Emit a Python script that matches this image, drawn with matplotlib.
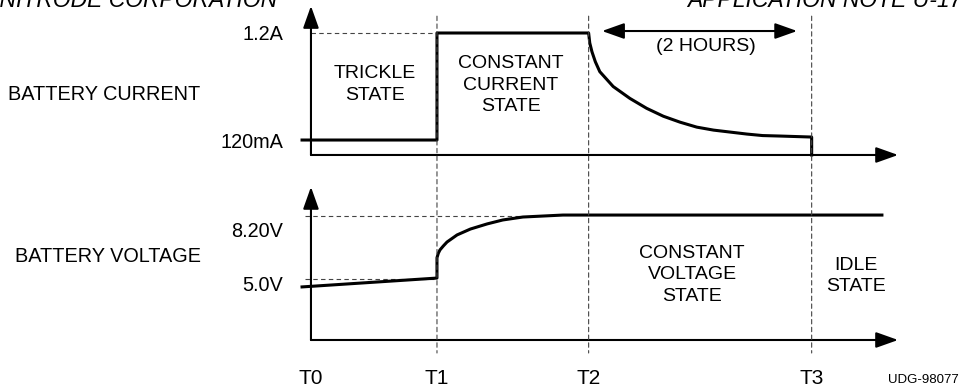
import matplotlib.pyplot as plt
from matplotlib.patches import ConnectionPatch

plt.rcParams['font.family'] = ['Liberation Sans', 'DejaVu Sans']

# time in hours, T markers
t_marks = [0.0, 1.13, 2.49, 4.49]
t_labels = ['T0', 'T1', 'T2', 'T3']

# battery current (A)
t_cur = [-0.08, 1.13, 1.13, 2.49, 2.50, 2.52, 2.55, 2.59, 2.71, 2.86, 3.01, 3.16,
         3.31, 3.46, 3.61, 3.76, 3.91, 4.05, 4.21, 4.35, 4.49, 4.49]
i_cur = [0.12, 0.12, 1.20, 1.20, 1.10, 1.01, 0.91, 0.81, 0.66, 0.54, 0.44, 0.36,
         0.30, 0.25, 0.22, 0.20, 0.18, 0.165, 0.16, 0.155, 0.15, -0.031]

# battery voltage (V)
t_volt = [-0.08, 1.13, 1.13, 1.142, 1.157, 1.187, 1.22, 1.31, 1.43, 1.58, 1.72,
          1.90, 2.08, 2.26, 2.50, 5.12]
v_volt = [4.62, 5.07, 6.10, 6.33, 6.50, 6.70, 6.90, 7.26, 7.56, 7.82, 8.02,
          8.17, 8.22, 8.27, 8.27, 8.27]

i_ticks = [0.12, 1.2]
i_ticklabels = ['120mA', '1.2A']
v_levels = [5.0, 8.2]
v_labels = ['5.0V', '8.20V']

I_BASE = -0.031
V_BASE = 1.925
T_END = 5.265

fig = plt.figure(figsize=(9.59, 3.9), dpi=100)
ax_i = fig.add_axes([290 / 959, 1 - 175 / 390, 615 / 959, 175 / 390])
ax_v = fig.add_axes([290 / 959, 1 - 360 / 390, 615 / 959, 180 / 390])

ax_i.set_xlim(-0.188, 5.327)
ax_v.set_xlim(-0.188, 5.327)
ax_i.set_ylim(-0.233, 1.533)
ax_v.set_ylim(0.909, 10.05)

for ax in (ax_i, ax_v):
    for s in ax.spines.values():
        s.set_visible(False)
    ax.patch.set_alpha(0)

arrow_style = dict(arrowstyle='-|>,head_length=0.9,head_width=0.32', color='black',
                   lw=1.5, mutation_scale=15, shrinkA=0, shrinkB=0)


def axis_arrows(ax, base, top):
    ax.annotate('', xy=(0, top), xytext=(0, base), arrowprops=arrow_style,
                annotation_clip=False)
    ax.annotate('', xy=(T_END, base), xytext=(0, base), arrowprops=arrow_style,
                annotation_clip=False)


axis_arrows(ax_i, I_BASE, 1.473)
axis_arrows(ax_v, V_BASE, 9.70)

dash = (0, (4, 3))
# reference levels
ax_i.plot([0, t_marks[1]], [1.2, 1.2], color='#444444', lw=0.8, ls=dash)
ax_v.plot([-0.05, 1.9], [v_levels[1], v_levels[1]], color='#444444', lw=0.8, ls=dash)
ax_v.plot([-0.05, t_marks[1]], [v_levels[0], v_levels[0]], color='#444444', lw=0.8, ls=dash)

for t in t_marks[1:]:
    con = ConnectionPatch(xyA=(t, 1.37), coordsA=ax_i.transData,
                          xyB=(t, 1.265), coordsB=ax_v.transData,
                          color='#444444', lw=0.8, ls=dash)
    fig.add_artist(con)

ax_i.plot(t_cur, i_cur, color='black', lw=2.2, solid_joinstyle='round', zorder=3)
ax_v.plot(t_volt, v_volt, color='black', lw=2.2, solid_joinstyle='round', zorder=3)

# tick labels
ax_i.set_xticks([])
ax_i.set_yticks(i_ticks)
ax_i.set_yticklabels(i_ticklabels)
ax_i.tick_params(axis='y', length=0, pad=5, labelsize=14.3)

ax_v.set_yticks([])
ax_v.set_xticks(t_marks)
ax_v.set_xticklabels(t_labels)
ax_v.tick_params(axis='x', length=0, pad=6.5, labelsize=15)

ax_v.text(-0.25, 7.41, v_labels[1], ha='right', va='center', fontsize=14.3)
ax_v.text(-0.25, 4.67, v_labels[0], ha='right', va='center', fontsize=14.3)

# state annotations
ax_i.text(0.574, 0.685, 'TRICKLE\nSTATE', ha='center', va='center', fontsize=14,
          linespacing=1.38)
ax_i.text(1.794, 0.675, 'CONSTANT\nCURRENT\nSTATE', ha='center', va='center',
          fontsize=14, linespacing=1.33)
ax_i.annotate('', xy=(4.36, 1.22), xytext=(2.61, 1.22),
              arrowprops=dict(arrowstyle='<|-|>,head_length=0.9,head_width=0.32',
                              color='black', lw=1.5, mutation_scale=15,
                              shrinkA=0, shrinkB=0))
ax_i.text(3.54, 1.059, '(2 HOURS)', ha='center', va='center', fontsize=14)
ax_v.text(3.417, 5.226, 'CONSTANT\nVOLTAGE\nSTATE', ha='center', va='center',
          fontsize=14, linespacing=1.33)
ax_v.text(4.888, 5.175, 'IDLE\nSTATE', ha='center', va='center', fontsize=14,
          linespacing=1.33)

fig.text(8 / 959, 1 - 94 / 390, 'BATTERY CURRENT', ha='left', va='center', fontsize=14.3)
fig.text(15 / 959, 1 - 257 / 390, 'BATTERY VOLTAGE', ha='left', va='center', fontsize=14.3)
fig.text(1.0, 1 - 380 / 390, 'UDG-98077', ha='right', va='center', fontsize=9.5)

# page header, cut off at the top like the scan
fig.text(-17 / 959, 1 - 7 / 390, 'UNITRODE CORPORATION', style='italic',
         fontsize=16.5, ha='left', va='baseline')
fig.text(687 / 959, 1 - 7 / 390, 'APPLICATION NOTE U-173', style='italic',
         fontsize=16.5, ha='left', va='baseline')

plt.savefig('out.png', dpi=100)
plt.close()
